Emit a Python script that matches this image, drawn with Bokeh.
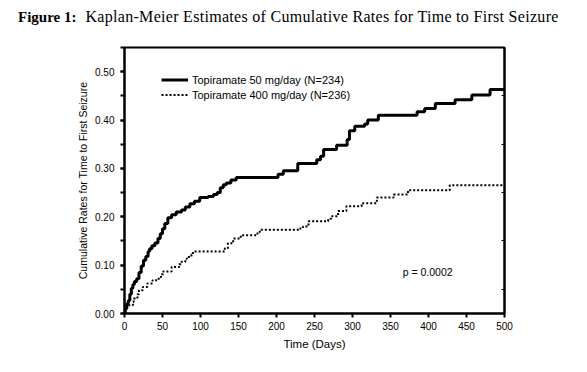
from bokeh.plotting import figure
from bokeh.layouts import column
from bokeh.models import (Range1d, LinearAxis, SingleIntervalTicker, FixedTicker, Div,
                          NumeralTickFormatter, CustomJSTickFormatter, Label, Legend, LegendItem)
from bokeh.embed import file_html
from bokeh.resources import INLINE

# ---- data ----
days_50 = [0, 1, 3, 5, 7, 9, 11, 13, 16, 19, 22, 25, 28, 31, 33, 36, 40, 44, 47, 50, 53, 57,
           62, 68, 75, 80, 86, 92, 99, 110, 117, 122, 126, 130, 134, 140, 147, 202, 209, 228,
           253, 258, 262, 279, 293, 296, 303, 316, 320, 334, 385, 395, 409, 435, 457, 481, 500]
rate_50 = [0.000, 0.010, 0.020, 0.027, 0.040, 0.052, 0.060, 0.066, 0.072, 0.085, 0.098, 0.110,
           0.118, 0.128, 0.134, 0.140, 0.146, 0.155, 0.165, 0.175, 0.186, 0.198, 0.204, 0.210,
           0.214, 0.220, 0.227, 0.232, 0.240, 0.242, 0.246, 0.250, 0.260, 0.266, 0.270, 0.276,
           0.281, 0.288, 0.295, 0.310, 0.318, 0.325, 0.339, 0.348, 0.360, 0.378, 0.387, 0.392,
           0.400, 0.410, 0.417, 0.424, 0.434, 0.442, 0.452, 0.463, 0.463]

days_400 = [0, 1, 2, 11, 12, 17, 19, 24, 30, 37, 45, 48, 51, 62, 72, 75, 80, 82, 88, 90, 132,
            136, 143, 153, 175, 178, 230, 235, 242, 268, 272, 281, 292, 312, 332, 354, 373, 428, 500]
rate_400 = [0.000, 0.009, 0.017, 0.024, 0.031, 0.040, 0.048, 0.055, 0.062, 0.069, 0.075, 0.081,
            0.087, 0.096, 0.102, 0.107, 0.113, 0.117, 0.122, 0.128, 0.135, 0.145, 0.155, 0.162,
            0.168, 0.173, 0.176, 0.180, 0.191, 0.196, 0.201, 0.212, 0.222, 0.228, 0.240, 0.246,
            0.255, 0.265, 0.265]

series_names = ["Topiramate 50 mg/day (N=234)", "Topiramate 400 mg/day (N=236)"]
x_ticks = [0, 50, 100, 150, 200, 250, 300, 350, 400, 450, 500]
p_value_text = "p = 0.0002"
title_bold = "Figure 1:"
title_text = "Kaplan-Meier Estimates of Cumulative Rates for Time to First Seizure"
x_label = "Time (Days)"
y_label = "Cumulative Rates for Time to First Seizure"

SANS = "Liberation Sans"
SERIF = "Liberation Serif"

DIV_H = 40

title_div = Div(
    text=('<div style="font-family: \'Liberation Serif\', serif; color: black; '
          'white-space: nowrap; padding-left: 18px; padding-top: 8px; line-height: 17px;">'
          '<b style="font-size: 15px;">' + title_bold + '</b>'
          '<span style="display: inline-block; width: 9px;"></span>'
          '<span style="font-size: 16px; letter-spacing: 0.3px;">' + title_text + '</span></div>'),
    width=587, height=DIV_H, margin=0)

p = figure(width=574, height=324, output_backend="svg", toolbar_location=None,
           x_range=Range1d(0, 500), y_range=Range1d(0, 0.55),
           min_border_left=124, min_border_right=70, min_border_top=7, min_border_bottom=51,
           x_axis_type=None, y_axis_type=None, margin=0)
p.background_fill_color = "white"
p.border_fill_color = "white"
p.grid.visible = False
p.outline_line_color = "black"
p.outline_line_width = 2

# axes
xaxis = LinearAxis(ticker=FixedTicker(ticks=x_ticks), axis_label=x_label)
yaxis = LinearAxis(ticker=SingleIntervalTicker(interval=0.1, num_minor_ticks=2),
                   formatter=NumeralTickFormatter(format="0.00"), axis_label=y_label)
for ax in (xaxis, yaxis):
    ax.axis_line_width = 2
    ax.major_tick_line_width = 2
    ax.minor_tick_line_width = 2
    ax.major_tick_out = 4
    ax.major_tick_in = 0
    ax.minor_tick_out = 4
    ax.minor_tick_in = 0
    ax.major_label_text_font = SANS
    ax.major_label_text_font_size = "10px"
    ax.major_label_text_color = "black"
    ax.axis_label_text_font = SANS
    ax.axis_label_text_font_style = "normal"
    ax.axis_label_text_color = "black"
xaxis.minor_tick_line_color = None
xaxis.major_label_standoff = 4
xaxis.axis_label_standoff = 5
xaxis.axis_label_text_font_size = "11.5px"
yaxis.major_label_standoff = 6
yaxis.axis_label_standoff = 3
yaxis.axis_label_text_font_size = "10.5px"
p.add_layout(xaxis, "below")
p.add_layout(yaxis, "left")

raxis = LinearAxis(ticker=FixedTicker(ticks=[0.05, 0.15, 0.25, 0.35, 0.45]),
                   formatter=CustomJSTickFormatter(code="return ''"))
raxis.axis_line_width = 2
raxis.major_tick_in = 3
raxis.major_tick_out = 0
raxis.major_tick_line_width = 1
raxis.minor_tick_line_color = None
raxis.major_label_standoff = 0
p.add_layout(raxis, "right")

r50 = p.step(days_50, rate_50, mode="after", line_color="black", line_width=3)
r400 = p.step(days_400, rate_400, mode="after", line_color="black", line_width=2,
              line_dash="2 2")

legend = Legend(items=[LegendItem(label=series_names[0], renderers=[r50]),
                       LegendItem(label=series_names[1], renderers=[r400])],
                location=(37, 212), orientation="vertical")
legend.background_fill_alpha = 0
legend.border_line_color = None
legend.label_text_font = SANS
legend.label_text_font_size = "11px"
legend.label_text_color = "black"
legend.glyph_width = 27
legend.glyph_height = 13
legend.label_height = 13
legend.label_standoff = 4
legend.spacing = 2
legend.padding = 0
legend.margin = 0
p.add_layout(legend, "center")

p.add_layout(Label(x=366, y=0.086, text=p_value_text, text_font=SANS, text_font_size="10.5px",
                   text_color="black", text_baseline="middle", text_align="left"))

layout = column(title_div, p, margin=0, spacing=0)
open("out.html", "w").write(file_html(layout, INLINE))
